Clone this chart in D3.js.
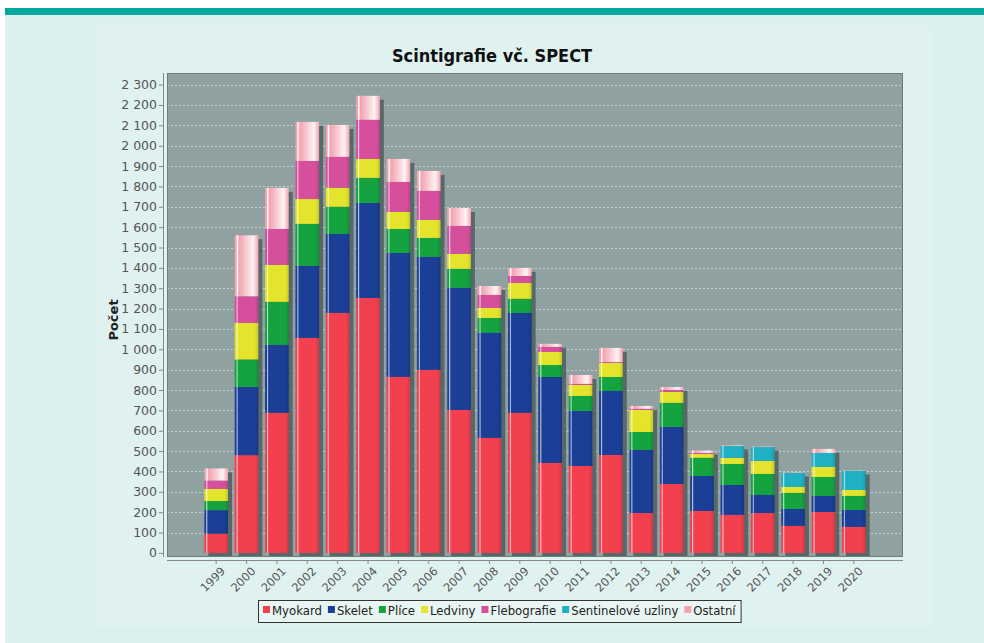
<!DOCTYPE html>
<html>
<head>
<meta charset="utf-8">
<script src="https://cdn.jsdelivr.net/npm/d3@7"></script>
<style>
  body { margin: 0; background: #fff; }
  svg { display: block; }
</style>
</head>
<body>
<svg id="chart" width="984" height="643"></svg>
<script>
// data
var years = ["1999", "2000", "2001", "2002", "2003", "2004", "2005", "2006", "2007", "2008", "2009",
             "2010", "2011", "2012", "2013", "2014", "2015", "2016", "2017", "2018", "2019", "2020"];
var myokard     = [95, 480, 688, 1056, 1179, 1252, 865, 899, 702, 565, 688, 442, 427, 481, 196, 339, 206, 187, 196, 133, 201, 128];
var skelet      = [115, 335, 334, 354, 388, 467, 608, 555, 600, 516, 491, 422, 270, 315, 310, 280, 172, 147, 89, 83, 79, 83];
var plice       = [45, 135, 211, 206, 133, 123, 118, 93, 93, 73, 69, 59, 74, 68, 88, 118, 89, 103, 103, 79, 93, 69];
var ledviny     = [60, 180, 182, 122, 94, 93, 84, 89, 74, 49, 78, 64, 54, 69, 108, 54, 19, 30, 64, 29, 49, 29];
var flebografie = [40, 130, 176, 187, 151, 192, 147, 142, 137, 64, 34, 25, 5, 4, 6, 9, 5, 0, 0, 0, 0, 0];
var sentinel    = [0, 0, 0, 0, 0, 0, 0, 0, 0, 0, 0, 0, 0, 0, 0, 0, 0, 58, 68, 69, 69, 94];
var ostatni     = [60, 300, 202, 192, 157, 118, 113, 98, 88, 44, 40, 15, 44, 70, 14, 15, 12, 3, 2, 2, 20, 2];

var seriesNames = ["Myokard", "Skelet", "Plíce", "Ledviny", "Flebografie", "Sentinelové uzliny", "Ostatní"];
var seriesData = [myokard, skelet, plice, ledviny, flebografie, sentinel, ostatni];
var colors = ["#f2404f", "#1b3e97", "#15a340", "#e4e42c", "#d64f9d", "#1fb0c3", "#f3a3b0"];
var yTicks = d3.range(0, 2301, 100);

var svg = d3.select("#chart");

// background
svg.append("rect").attr("x", 5).attr("y", 8).attr("width", 979).attr("height", 7).attr("fill", "#00a99d");
svg.append("rect").attr("x", 5).attr("y", 15).attr("width", 979).attr("height", 628).attr("fill", "#dcf0ed");
svg.append("rect").attr("x", 95).attr("y", 26).attr("width", 838).attr("height", 601).attr("fill", "#e0f2f0");

// plot area
var plot = { left: 167, right: 903, top: 73, bottom: 557 };

var x = d3.scaleBand()
    .domain(years)
    .range([201, 869])
    .paddingInner(0.22)
    .paddingOuter(0.11);

var y = d3.scaleLinear()
    .domain([-20, 2357])
    .range([plot.bottom, plot.top]);

// gradients (bar painter look)
var defs = svg.append("defs");
colors.forEach(function (c, i) {
    var g = defs.append("linearGradient").attr("id", "grad" + i)
        .attr("x1", 0).attr("x2", 1).attr("y1", 0).attr("y2", 0);
    var light = d3.interpolateRgb(c, "#ffffff");
    var dark = d3.color(c).darker(0.4);
    var stops;
    if (i == 6) {
        stops = [[0, c], [0.06, c], [0.11, "#ffffff"], [0.18, c], [0.5, light(0.45)], [0.78, "#fff4f6"], [0.92, light(0.3)], [1, c]];
    } else {
        stops = [[0, c], [0.06, c], [0.1, light(0.7)], [0.15, c], [0.85, c], [1, dark]];
    }
    stops.forEach(function (s) {
        g.append("stop").attr("offset", s[0]).attr("stop-color", s[1]);
    });
});

svg.append("rect")
    .attr("x", plot.left).attr("y", plot.top)
    .attr("width", plot.right - plot.left).attr("height", plot.bottom - plot.top)
    .attr("fill", "#8fa1a1");

// gridlines
svg.append("g")
    .selectAll("line")
    .data(yTicks.slice(1))
    .join("line")
    .attr("x1", plot.left).attr("x2", plot.right)
    .attr("y1", d => Math.round(y(d)) + 0.5).attr("y2", d => Math.round(y(d)) + 0.5)
    .attr("stroke", "#c3d0d0")
    .attr("stroke-width", 1)
    .attr("stroke-dasharray", "2,2");

// stacked data
var table = years.map(function (yr, i) {
    var row = { year: yr };
    seriesNames.forEach(function (n, k) { row[n] = seriesData[k][i]; });
    return row;
});
var stacked = d3.stack().keys(seriesNames)(table);
var totals = table.map(d => d3.sum(seriesNames, n => d[n]));

var clip = defs.append("clipPath").attr("id", "plotclip");
clip.append("rect").attr("x", plot.left).attr("y", plot.top)
    .attr("width", plot.right - plot.left).attr("height", plot.bottom - plot.top);

var barG = svg.append("g").attr("clip-path", "url(#plotclip)");

// shadows
barG.append("g")
    .selectAll("rect")
    .data(table)
    .join("rect")
    .attr("x", (d, i) => x(d.year) + 4)
    .attr("y", (d, i) => y(totals[i]) + 4)
    .attr("width", x.bandwidth())
    .attr("height", (d, i) => y(0) - y(totals[i]))
    .attr("fill", "#4f5e5e")
    .attr("opacity", 0.85);

// bars
barG.selectAll("g.series")
    .data(stacked)
    .join("g")
    .attr("class", "series")
    .attr("fill", (d, i) => "url(#grad" + i + ")")
    .selectAll("rect")
    .data(d => d)
    .join("rect")
    .attr("x", d => x(d.data.year))
    .attr("y", d => y(d[1]))
    .attr("width", x.bandwidth())
    .attr("height", d => Math.max(0, y(d[0]) - y(d[1])));

// plot outline
svg.append("rect")
    .attr("x", plot.left + 0.5).attr("y", plot.top + 0.5)
    .attr("width", plot.right - plot.left - 1).attr("height", plot.bottom - plot.top - 1)
    .attr("fill", "none")
    .attr("stroke", "#6f7c7c");

// axes
var locale = d3.formatLocale({ decimal: ",", thousands: " ", grouping: [3], currency: ["", ""] });
var fmt = locale.format(",d");

var yAxis = svg.append("g")
    .attr("transform", "translate(" + (plot.left - 4) + ",0)")
    .call(d3.axisLeft(y).tickValues(yTicks).tickFormat(fmt).tickSize(4).tickPadding(2));
yAxis.select(".domain").attr("stroke", "#888").attr("d", "M0.5," + plot.top + "V" + plot.bottom);
yAxis.selectAll(".tick line").attr("stroke", "#888");
yAxis.selectAll("text")
    .attr("fill", "#555")
    .style("font", "12.5px 'DejaVu Sans'");

var xAxis = svg.append("g")
    .attr("transform", "translate(0," + (plot.bottom + 3) + ")")
    .call(d3.axisBottom(x).tickSize(4).tickSizeOuter(0));
xAxis.select(".domain").attr("stroke", "#888").attr("d", "M" + plot.left + ",0.5H" + plot.right);
xAxis.selectAll(".tick line").attr("stroke", "#888");
xAxis.selectAll("text")
    .attr("fill", "#555")
    .style("font", "11.5px 'DejaVu Sans'")
    .attr("text-anchor", "end")
    .attr("dy", "0.35em")
    .attr("transform", "translate(7,9) rotate(-45)")
    .attr("y", 0).attr("x", 0);

// titles
svg.append("text")
    .attr("x", 492).attr("y", 62)
    .attr("text-anchor", "middle")
    .style("font", "bold 18px 'DejaVu Sans Condensed'")
    .attr("fill", "#111")
    .text("Scintigrafie vč. SPECT");

svg.append("text")
    .attr("transform", "translate(118," + ((plot.top + plot.bottom) / 2 + 5) + ") rotate(-90)")
    .attr("text-anchor", "middle")
    .style("font", "bold 13px 'DejaVu Sans'")
    .attr("fill", "#222")
    .text("Počet");

// legend
var legend = svg.append("g");
var lx = 263, ly = 611, lastEnd = lx;
var items = legend.selectAll("g")
    .data(seriesNames)
    .join("g");
items.append("rect")
    .attr("width", 7).attr("height", 7)
    .attr("y", -5)
    .attr("fill", (d, i) => colors[i]);
items.append("text")
    .attr("x", 9).attr("y", 4)
    .style("font", "13px 'DejaVu Sans Condensed'")
    .attr("fill", "#222")
    .text(d => d);
items.each(function (d) {
    var w = d3.select(this).select("text").node().getComputedTextLength();
    d3.select(this).attr("transform", "translate(" + lx + "," + ly + ")");
    lastEnd = lx + 9 + w;
    lx = lastEnd + 6;
});
legend.insert("rect", ":first-child")
    .attr("x", 258.5).attr("y", 600.5)
    .attr("width", lastEnd + 5 - 258).attr("height", 22)
    .attr("fill", "#e8f5f3")
    .attr("stroke", "#333");
</script>
</body>
</html>
